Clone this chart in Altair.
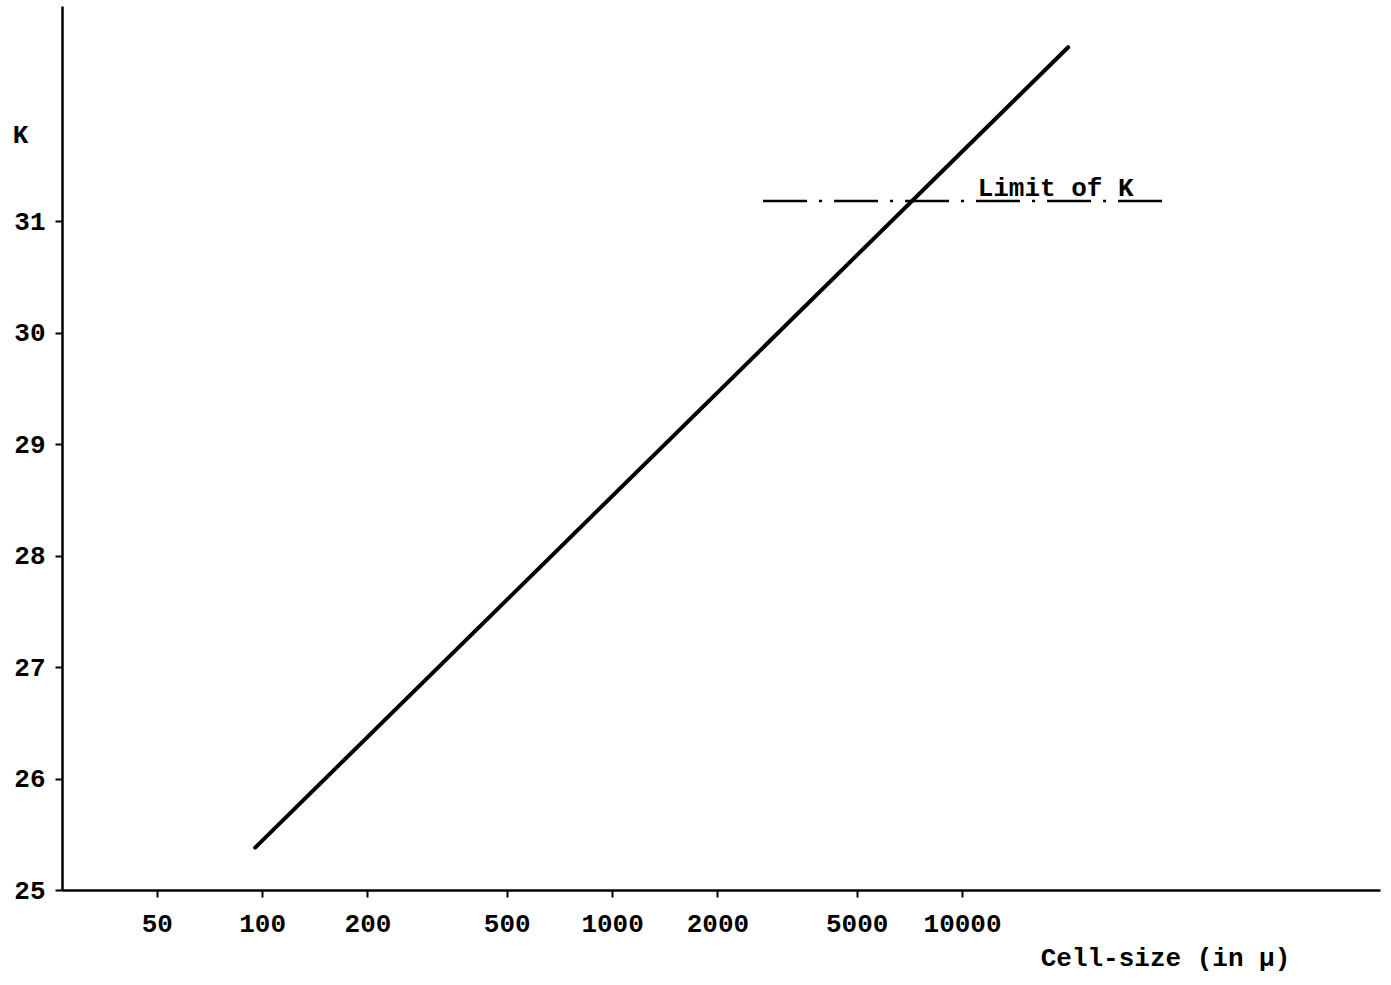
import altair as alt
import pandas as pd

# Data
line_cell_size = [95.5, 20100]
line_k = [25.38, 32.56]
limit_cell_size = [2700, 37500]
limit_k = [31.18, 31.18]
x_ticks = [50, 100, 200, 500, 1000, 2000, 5000, 10000]
y_ticks = [25, 26, 27, 28, 29, 30, 31]
label_text = ["Limit of K"]
label_x = [11300]
label_y = [31.18]

FONT = "Liberation Mono"

line_df = pd.DataFrame({"size": line_cell_size, "K": line_k})
limit_df = pd.DataFrame({"size": limit_cell_size, "K": limit_k})
label_df = pd.DataFrame({"size": label_x, "K": label_y, "t": label_text})

xscale = alt.Scale(type="log", domain=[26.8, 156400], nice=False, zero=False)
yscale = alt.Scale(domain=[25, 32.93], nice=False, zero=False)

xaxis = alt.Axis(
    values=x_ticks, format="d", grid=False, domainColor="black", domainWidth=2.5,
    tickColor="black", tickWidth=2, tickSize=7, labelPadding=13,
    labelFont=FONT, labelFontSize=26, labelFontWeight="bold", labelColor="black",
    title="Cell-size (in μ)", titleFont=FONT, titleFontSize=26, titleFontWeight="bold",
    titleColor="black", titleX=1103, titleY=67, titleAlign="center", titleBaseline="middle",
    labelFlush=False, labelOverlap=False,
)
yaxis = alt.Axis(
    values=y_ticks, format="d", grid=False, domainColor="black", domainWidth=2.5,
    tickColor="black", tickWidth=2, tickSize=7, labelPadding=10,
    labelFont=FONT, labelFontSize=26, labelFontWeight="bold", labelColor="black",
    title="K", titleFont=FONT, titleFontSize=26, titleFontWeight="bold", titleColor="black",
    titleAngle=0, titleX=-42, titleY=128, titleAlign="center", titleBaseline="middle",
    labelFlush=False, labelOverlap=False,
)

main = alt.Chart(line_df).mark_line(color="black", strokeWidth=4, strokeCap="round").encode(
    x=alt.X("size:Q", scale=xscale, axis=xaxis),
    y=alt.Y("K:Q", scale=yscale, axis=yaxis),
)

limit = alt.Chart(limit_df).mark_line(color="black", strokeWidth=2.5, strokeDash=[44, 12, 3, 12]).encode(
    x=alt.X("size:Q", scale=xscale),
    y=alt.Y("K:Q", scale=yscale),
)

label = alt.Chart(label_df).mark_text(
    font=FONT, fontSize=26, fontWeight="bold", color="black", align="left",
    baseline="alphabetic", dy=-5, dx=-3,
).encode(
    x=alt.X("size:Q", scale=xscale),
    y=alt.Y("K:Q", scale=yscale),
    text="t:N",
)

chart = alt.layer(main, limit, label).properties(
    width=1318, height=884,
    padding={"left": 62, "top": 6, "right": 11, "bottom": 95},
    autosize=alt.AutoSizeParams(type="none"),
    background="white",
).configure_view(stroke=None)

chart.save("out.html", embed_options={"renderer": "svg", "actions": False})
